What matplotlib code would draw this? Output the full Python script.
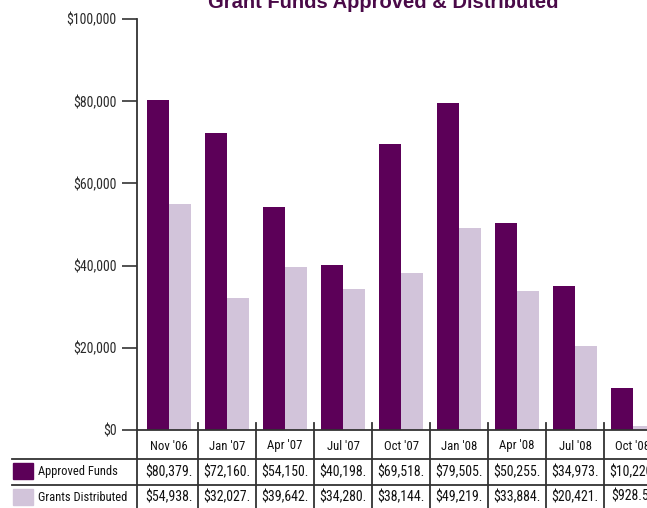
import matplotlib.pyplot as plt
import matplotlib.transforms as mtransforms
import numpy as np

# datos
periodos = ["Nov '06", "Jan '07", "Apr '07", "Jul '07", "Oct '07",
            "Jan '08", "Apr '08", "Jul '08", "Oct '08"]
aprobados = [80379, 72160, 54150, 40198, 69518, 79505, 50255, 34973, 10220]
distribuidos = [54938, 32027, 39642, 34280, 38144, 49219, 33884, 20421, 928.50]
ticks_y = [0, 20000, 40000, 60000, 80000, 100000]
series = ["Approved Funds", "Grants Distributed"]

c_aprob = '#5c0058'
c_dist = '#d2c4da'
c_titulo = '#4a0a48'
c_linea = '#333333'
fuente = ['Roboto Condensed', 'DejaVu Sans']

W, H = 647, 508
fig = plt.figure(figsize=(W / 100, H / 100), dpi=100)

# ejes en pixeles (se recortan a la derecha como en la imagen)
x0, x1 = 137, 662
y0, y1 = 430, 19
ax = fig.add_axes([x0 / W, 1 - y0 / H, (x1 - x0) / W, (y0 - y1) / H])

x = np.arange(len(periodos))
ancho = 0.385
ax.bar(x - 0.195, aprobados, ancho, color=c_aprob)
ax.bar(x + 0.195, distribuidos, ancho, color=c_dist)

ax.set_xlim(-0.552, len(periodos) - 0.5)
ax.set_ylim(0, 100000)
ax.set_yticks(ticks_y)
ax.set_yticklabels([f"${v:,}" for v in ticks_y], family=fuente, fontsize=10,
                   color='#2a2a2a')
ax.tick_params(axis='y', length=11, width=1.2, color=c_linea, pad=3.5)
ax.set_xticks([])
for s in ['top', 'right']:
    ax.spines[s].set_visible(False)
ax.spines['left'].set_color(c_linea)
ax.spines['left'].set_linewidth(1.3)
ax.spines['bottom'].set_color(c_linea)
ax.spines['bottom'].set_linewidth(1.3)

fig.text(383 / W, 1 - 8 / H, "Grant Funds Approved & Distributed",
         ha='center', va='baseline', fontsize=14.5, fontweight='bold',
         color=c_titulo, family=['Liberation Sans', 'DejaVu Sans'])

# tabla debajo del grafico, en pixeles de la figura
def px(xp, yp):
    return xp / W, 1 - yp / H

trans = mtransforms.blended_transform_factory(ax.transData, fig.transFigure)

# lineas horizontales
for yp in [459, 485]:
    fig.add_artist(plt.Line2D([12 / W, 1.05], [1 - yp / H] * 2,
                              color=c_linea, lw=1.3))
# linea vertical del eje extendida
fig.add_artist(plt.Line2D([x0 / W] * 2, [1 - y0 / H, 0], color=c_linea, lw=1.3))
# divisores de columnas
for b in np.arange(0.5, len(periodos), 1.0):
    fig.add_artist(plt.Line2D([b, b], [1 - 423 / H, 0], color=c_linea, lw=1.3,
                              transform=trans))

def etiqueta(v):
    return f"${v:,.2f}"[:8]

for i, p in enumerate(periodos):
    fig.text(i, 1 - 446 / H, p, transform=trans, ha='center', va='center',
             fontsize=9.2, family=fuente, color='#111111')
    fig.text(i, 1 - 472 / H, etiqueta(aprobados[i]), transform=trans,
             ha='center', va='center', fontsize=10, family=fuente,
             color='#111111')
    fig.text(i, 1 - 497 / H, etiqueta(distribuidos[i]), transform=trans,
             ha='center', va='center', fontsize=10, family=fuente,
             color='#111111')

# leyenda en la tabla
for yp, col, nombre in [(463, c_aprob, series[0]), (489, c_dist, series[1])]:
    fig.add_artist(plt.Rectangle(px(13, yp + 16), 20 / W, 16 / H,
                                 color=col, transform=fig.transFigure))
    fig.text(38 / W, 1 - (yp + 8.5) / H, nombre, ha='left', va='center',
             fontsize=9, family=fuente, color='#111111')

fig.savefig('out.png', dpi=100)
